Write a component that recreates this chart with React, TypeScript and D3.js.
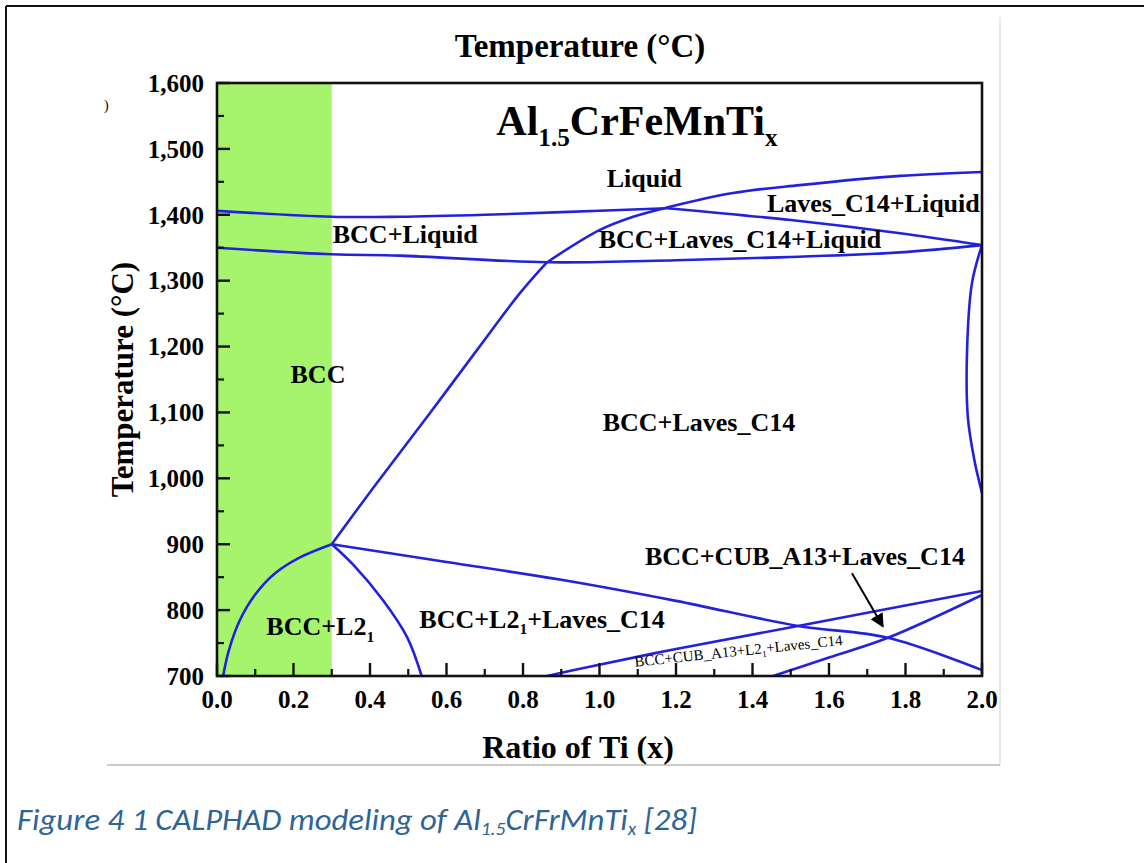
import React from 'react';
import * as d3 from 'd3';

// phase boundaries, [ratio of Ti, temperature °C]
const liquidusLeft = [[0, 1406], [0.3, 1397], [0.478, 1397], [0.7, 1400], [0.9, 1404], [1.176, 1410]];
const lavesLiquidLower = [[1.176, 1410], [1.5, 1392], [1.786, 1372], [2.0, 1354]];
const solidus = [[0, 1350], [0.3, 1340], [0.478, 1338], [0.863, 1328], [1.2, 1331], [1.5, 1336], [1.786, 1343], [2.0, 1354]];
const bccLavesLow = [[0.3, 900], [0.418, 993], [0.549, 1093], [0.68, 1195], [0.792, 1281], [0.863, 1328]];
const bccLavesHigh = [[0.863, 1328], [1.001, 1377], [1.088, 1397], [1.176, 1411], [1.349, 1433], [1.524, 1445], [1.786, 1459], [2.0, 1465]];
const rightEdge = [[2.0, 1354], [1.974, 1297], [1.961, 1195], [1.963, 1093], [1.98, 1028], [2.0, 978]];
const l21Dome = [[0.016, 700], [0.031, 739], [0.06, 785], [0.099, 823], [0.152, 856], [0.217, 880], [0.3, 900]];
const l21Right = [[0.3, 900], [0.356, 869], [0.434, 815], [0.497, 759], [0.535, 700]];
const l21Upper = [[0.3, 900], [0.6, 873], [0.9, 846], [1.2, 814], [1.519, 776], [1.754, 758], [2.0, 709]];
const cubLower = [[0.863, 700], [0.949, 711], [1.2, 741], [1.519, 776], [2.0, 829]];
const cubUpper = [[1.454, 700], [1.6, 728], [1.754, 758], [2.0, 823]];

const boundaries = [liquidusLeft, lavesLiquidLower, solidus, bccLavesLow, bccLavesHigh, rightEdge, l21Dome, l21Right, l21Upper, cubLower, cubUpper];

const bccSingle = [0, 0.3];
const xTicks = [0, 0.2, 0.4, 0.6, 0.8, 1.0, 1.2, 1.4, 1.6, 1.8, 2.0];
const yTicks = [700, 800, 900, 1000, 1100, 1200, 1300, 1400, 1500, 1600];

// region names; parts flagged 1 are subscripts
const regionLabels = [
  { parts: [['Liquid', 0]], x: 1.117, t: 1442, anchor: 'middle' },
  { parts: [['Laves_C14+Liquid', 0]], x: 1.716, t: 1404, anchor: 'middle' },
  { parts: [['BCC+Liquid', 0]], x: 0.492, t: 1357, anchor: 'middle' },
  { parts: [['BCC+Laves_C14+Liquid', 0]], x: 1.367, t: 1349, anchor: 'middle' },
  { parts: [['BCC', 0]], x: 0.264, t: 1145, anchor: 'middle' },
  { parts: [['BCC+Laves_C14', 0]], x: 1.26, t: 1072, anchor: 'middle' },
  { parts: [['BCC+CUB_A13+Laves_C14', 0]], x: 1.537, t: 869, anchor: 'middle' },
  { parts: [['BCC+L2', 0], ['1', 1]], x: 0.129, t: 762, anchor: 'start' },
  { parts: [['BCC+L2', 0], ['1', 1], ['+Laves_C14', 0]], x: 0.529, t: 773, anchor: 'start' },
];

const W = 1144;
const H = 863;
const serif = '"Liberation Serif", "Times New Roman", serif';
const blue = '#2222dd';

export default function App() {
  const x = d3.scaleLinear().domain([0, 2]).range([217, 982]);
  const y = d3.scaleLinear().domain([700, 1600]).range([676, 83]);
  const line = d3.line<number[]>().x(d => x(d[0])).y(d => y(d[1])).curve(d3.curveCatmullRom.alpha(0.5));

  const xMinor = d3.range(0.1, 2, 0.2);
  const yMinor = d3.range(750, 1600, 100);

  const [x0, x1] = x.range();
  const [yb, yt] = y.range();

  const sub = (parts: any[], size: number) =>
    parts.map((p, i) =>
      p[1] ? (
        <tspan key={i} fontSize={size * 0.6} dy={size * 0.25}>{p[0]}</tspan>
      ) : (
        <tspan key={i} dy={i > 0 && parts[i - 1][1] ? -size * 0.25 : 0}>{p[0]}</tspan>
      )
    );

  const smallX = x(1.093);
  const smallY = y(714);
  const arrowFrom = [x(1.66), y(856)];
  const arrowTo = [x(1.741), y(775)];

  return (
    <svg width={W} height={H} style={{ position: 'absolute', left: 0, top: 0, background: '#fff' }}>
      <defs>
        <clipPath id="plot">
          <rect x={x0} y={yt} width={x1 - x0} height={yb - yt} />
        </clipPath>
        <marker id="head" viewBox="0 0 10 10" refX="9" refY="5" markerWidth="7" markerHeight="7" orient="auto">
          <path d="M0,0 L10,5 L0,10 z" fill="#000" />
        </marker>
      </defs>

      {/* page frame */}
      <line x1={6} y1={6} x2={W} y2={6} stroke="#111" strokeWidth={2} />
      <line x1={6} y1={6} x2={6} y2={H} stroke="#111" strokeWidth={2} />
      {/* picture edges */}
      <line x1={1000} y1={17} x2={1000} y2={765} stroke="#d0d0d0" strokeWidth={1} />
      <line x1={107} y1={765} x2={1000} y2={765} stroke="#999" strokeWidth={1} />
      <text x={104} y={110} fontSize={14} fontFamily={serif}>)</text>

      {/* single BCC region */}
      <rect x={x(bccSingle[0])} y={yt} width={x(bccSingle[1]) - x(bccSingle[0])} height={yb - yt} fill="#a6f46c" />

      <g clipPath="url(#plot)">
        {boundaries.map((b, i) => (
          <path key={i} d={line(b) || ''} fill="none" stroke={blue} strokeWidth={2.6} />
        ))}
      </g>

      {/* frame and ticks */}
      <rect x={x0} y={yt} width={x1 - x0} height={yb - yt} fill="none" stroke="#111" strokeWidth={2.6} />
      {xTicks.map(t => (
        <g key={'xt' + t}>
          <line x1={x(t)} x2={x(t)} y1={yb} y2={yb - 13} stroke="#111" strokeWidth={2.4} />
          <text x={x(t)} y={yb + 32} textAnchor="middle" fontFamily={serif} fontWeight="bold" fontSize={25}>
            {d3.format('.1f')(t)}
          </text>
        </g>
      ))}
      {xMinor.map(t => (
        <line key={'xm' + t} x1={x(t)} x2={x(t)} y1={yb} y2={yb - 7} stroke="#111" strokeWidth={2.2} />
      ))}
      {yTicks.map(t => (
        <g key={'yt' + t}>
          <line x1={x0} x2={x0 + 13} y1={y(t)} y2={y(t)} stroke="#111" strokeWidth={2.4} />
          <text x={x0 - 13} y={y(t)} dy="0.35em" textAnchor="end" fontFamily={serif} fontWeight="bold" fontSize={25}>
            {d3.format(',')(t)}
          </text>
        </g>
      ))}
      {yMinor.map(t => (
        <line key={'ym' + t} x1={x0} x2={x0 + 7} y1={y(t)} y2={y(t)} stroke="#111" strokeWidth={2.2} />
      ))}

      {/* titles */}
      <text x={580} y={57} textAnchor="middle" fontFamily={serif} fontWeight="bold" fontSize={33}>Temperature (°C)</text>
      <text x={578} y={758} textAnchor="middle" fontFamily={serif} fontWeight="bold" fontSize={32}>Ratio of Ti (x)</text>
      <text transform={`translate(133,${(yb + yt) / 2}) rotate(-90)`} textAnchor="middle" fontFamily={serif} fontWeight="bold" fontSize={31}>
        Temperature (°C)
      </text>

      {/* alloy name */}
      <text x={x(1.098)} y={y(1521)} textAnchor="middle" fontFamily={serif} fontWeight="bold" fontSize={42}>
        {sub([['Al', 0], ['1.5', 1], ['CrFeMnTi', 0], ['x', 1]], 42)}
      </text>

      {regionLabels.map((l, i) => (
        <text key={i} x={x(l.x)} y={y(l.t)} textAnchor={l.anchor} fontFamily={serif} fontWeight="bold" fontSize={26}>
          {sub(l.parts, 26)}
        </text>
      ))}

      <text transform={`translate(${smallX},${smallY}) rotate(-6)`} fontFamily={serif} fontSize={15}>
        {sub([['BCC+CUB_A13+L2', 0], ['1', 1], ['+Laves_C14', 0]], 15)}
      </text>

      <line x1={arrowFrom[0]} y1={arrowFrom[1]} x2={arrowTo[0]} y2={arrowTo[1]} stroke="#000" strokeWidth={2} markerEnd="url(#head)" />

      {/* caption */}
      <text x={17} y={830} fontFamily='Carlito, "Liberation Sans Narrow", "Noto Sans", sans-serif' fontStyle="italic" fontSize={30} fill="#2f6496" textLength={680} lengthAdjust="spacingAndGlyphs">
        Figure 4 1 CALPHAD modeling of Al<tspan fontSize={18} dy={5}>1.5</tspan><tspan dy={-5}>CrFrMnTi</tspan><tspan fontSize={18} dy={5}>x</tspan><tspan dy={-5}> [28]</tspan>
      </text>
    </svg>
  );
}
